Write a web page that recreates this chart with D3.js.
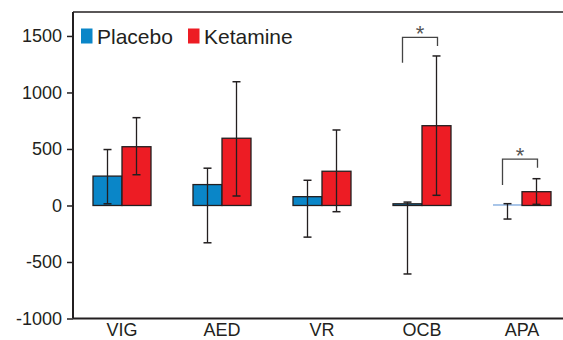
<!DOCTYPE html>
<html>
<head>
<meta charset="utf-8">
<script src="https://cdn.jsdelivr.net/npm/d3@7"></script>
<style>
  body { margin: 0; background: #fff; }
  svg { display: block; font-family: "Liberation Sans", Arial, sans-serif; }
</style>
</head>
<body>
<svg></svg>
<script>
const categories = ["VIG", "AED", "VR", "OCB", "APA"];
const placebo = [260, 185, 78, 15, 0];
const placeboLow = [15, -330, -280, -606, -120];
const placeboHigh = [495, 330, 223, 30, 16];
const ketamine = [520, 595, 303, 706, 122];
const ketamineLow = [272, 84, -55, 90, 10];
const ketamineHigh = [777, 1095, 668, 1323, 237];
const yTicks = [-1000, -500, 0, 500, 1000, 1500];
// significance brackets: [category, top, left leg end, right leg end]
const brackets = [
  ["OCB", 1488, 1264, 1411],
  ["APA", 411, 181, 334],
];

let width = 563,
  height = 340;

let svg = d3.select("svg").attr("width", width).attr("height", height);

const plotLeft = 73,
  plotRight = 563,
  plotTop = 12,
  plotBottom = 318.5;

let x = d3.scaleBand().domain(categories).range([72, 572]).paddingInner(0.42).paddingOuter(0.21);
let y = d3.scaleLinear().domain([-1000, 1712]).range([plotBottom, plotTop]);

const blue = "#0a86c8",
  red = "#ed1c24",
  ink = "#231f20";

// frame top line
svg.append("line")
  .attr("x1", plotLeft).attr("x2", plotRight)
  .attr("y1", plotTop).attr("y2", plotTop)
  .attr("stroke", ink).attr("stroke-width", 1.5);

// y axis
let yAxis = svg.append("g")
  .attr("transform", `translate(${plotLeft},0)`)
  .call(d3.axisLeft(y).tickValues(yTicks).tickSize(6).tickPadding(5).tickFormat((d) => String(d)));
yAxis.select(".domain").attr("d", `M0,${plotTop}V${plotBottom}`).attr("stroke", ink).attr("stroke-width", 2);
yAxis.selectAll(".tick line").attr("stroke", ink).attr("stroke-width", 1.5);
yAxis.selectAll("text").attr("font-size", 18).attr("fill", ink).attr("font-family", "Liberation Sans, Arial, sans-serif");

// x axis
let xAxis = svg.append("g")
  .attr("transform", `translate(0,${plotBottom})`)
  .call(d3.axisBottom(x).tickSize(0).tickPadding(5));
xAxis.select(".domain").attr("d", `M${plotLeft},0H${plotRight}`).attr("stroke", ink).attr("stroke-width", 2);
xAxis.selectAll("text").attr("font-size", 18).attr("fill", ink).attr("font-family", "Liberation Sans, Arial, sans-serif");

const bw = x.bandwidth() / 2;

const groups = [
  { name: "Placebo", vals: placebo, lo: placeboLow, hi: placeboHigh, color: blue, off: 0 },
  { name: "Ketamine", vals: ketamine, lo: ketamineLow, hi: ketamineHigh, color: red, off: bw },
];

groups.forEach((g) => {
  let sel = svg.append("g").attr("class", g.name);
  sel.selectAll("rect")
    .data(categories.filter((c, i) => g.vals[i] !== 0))
    .enter()
    .append("rect")
    .attr("x", (c) => x(c) + g.off)
    .attr("width", bw)
    .attr("y", (c) => y(Math.max(0, g.vals[categories.indexOf(c)])))
    .attr("height", (c) => Math.max(0.5, Math.abs(y(g.vals[categories.indexOf(c)]) - y(0))))
    .attr("fill", g.color)
    .attr("stroke", ink)
    .attr("stroke-width", 1.3);

  // zero-height bar drawn as a thin line
  categories.forEach((c, i) => {
    if (g.vals[i] === 0) {
      sel.append("line")
        .attr("x1", x(c) + g.off).attr("x2", x(c) + g.off + bw)
        .attr("y1", y(0) - 0.5).attr("y2", y(0) - 0.5)
        .attr("stroke", "#7aa6dc").attr("stroke-width", 1.3);
    }
  });

  // error bars
  categories.forEach((c, i) => {
    const cx = x(c) + g.off + bw / 2;
    sel.append("line")
      .attr("x1", cx).attr("x2", cx)
      .attr("y1", y(g.lo[i])).attr("y2", y(g.hi[i]))
      .attr("stroke", ink).attr("stroke-width", 1.3);
    [g.lo[i], g.hi[i]].forEach((v) => {
      sel.append("line")
        .attr("x1", cx - 4).attr("x2", cx + 4)
        .attr("y1", y(v)).attr("y2", y(v))
        .attr("stroke", ink).attr("stroke-width", 1.5);
    });
  });
});

// significance brackets
brackets.forEach(([c, t, l, r]) => {
  const x1 = x(c) + bw / 2 - 5,
    x2 = x(c) + bw * 1.5 + 1;
  svg.append("path")
    .attr("d", `M${x1},${y(l)}V${y(t)}H${x2}V${y(r)}`)
    .attr("fill", "none")
    .attr("stroke", "#444")
    .attr("stroke-width", 1.3);
  svg.append("text")
    .attr("x", (x1 + x2) / 2)
    .attr("y", y(t) + 4)
    .attr("text-anchor", "middle")
    .attr("font-size", 22)
    .attr("fill", "#555")
    .text("*");
});

// legend
const legend = [
  { name: "Placebo", color: blue, x: 81 },
  { name: "Ketamine", color: red, x: 188 },
];
legend.forEach((d) => {
  svg.append("rect")
    .attr("x", d.x).attr("y", 28.5)
    .attr("width", 11.5).attr("height", 15)
    .attr("fill", d.color);
  svg.append("text")
    .attr("x", d.x + 16).attr("y", 43.5)
    .attr("font-size", 21)
    .attr("fill", ink)
    .text(d.name);
});
</script>
</body>
</html>
